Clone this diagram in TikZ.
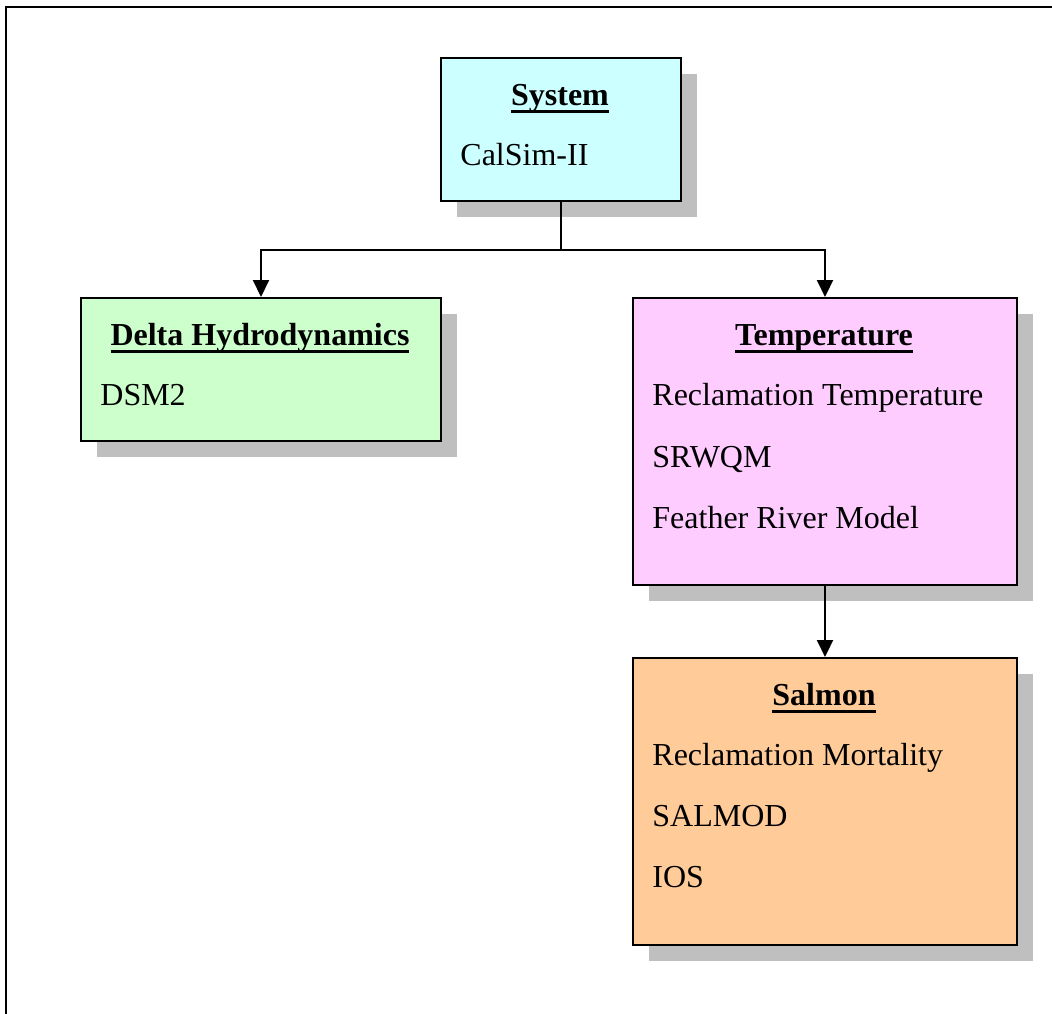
\documentclass[tikz,border=0pt]{standalone}
\usepackage{fontspec}
\setmainfont{Liberation Serif}
\usetikzlibrary{arrows.meta,shadows}
\newcommand{\boxtitle}[1]{\setbox0\hbox{\textbf{#1}}\leavevmode\rlap{\vrule width\wd0 height -2.5pt depth 4pt}\box0}
\tikzset{
  modelbox/.style={draw,line width=1pt,inner sep=0pt,anchor=north west,
    drop shadow={shadow xshift=8pt,shadow yshift=-8pt,fill=gray!50,opacity=1}},
  ttl/.style={anchor=base,inner sep=0pt},
  itm/.style={anchor=base west,inner sep=0pt},
  arr/.style={line width=1pt,-{Triangle[length=8.5pt,width=8pt]}}
}
\begin{document}
\begin{tikzpicture}[x=0.5pt,y=-0.5pt,font=\fontsize{16pt}{19pt}\selectfont]
  \useasboundingbox (0,0) rectangle (1052,1013);
  % frame
  \draw[line width=1.2pt] (6,1020) -- (6,7) -- (1060,7);
  % boxes
  \node[modelbox,fill={rgb,255:red,204;green,255;blue,255},minimum width=120pt,minimum height=71.5pt] (sys) at (440,57) {};
  \node[modelbox,fill={rgb,255:red,204;green,255;blue,204},minimum width=180pt,minimum height=71.5pt] (delta) at (80,297) {};
  \node[modelbox,fill={rgb,255:red,255;green,204;blue,255},minimum width=192pt,minimum height=143.5pt] (temp) at (632,297) {};
  \node[modelbox,fill={rgb,255:red,255;green,204;blue,153},minimum width=192pt,minimum height=143.5pt] (salmon) at (632,657) {};
  % texts
  \node[ttl] (systitle) at (560,105) {\boxtitle{System}};
  \node[itm] (calsim) at (460,165) {CalSim-II};
  \node[ttl] (deltatitle) at (260,345) {\boxtitle{Delta Hydrodynamics}};
  \node[itm] (dsm) at (100,405) {DSM2};
  \node[ttl] (temptitle) at (824,345) {\boxtitle{Temperature}};
  \node[itm] (rectemp) at (652,405) {Reclamation Temperature};
  \node[itm] (srwqm) at (652,467) {SRWQM};
  \node[itm] (feather) at (652,528) {Feather River Model};
  \node[ttl] (salmtitle) at (824,705) {\boxtitle{Salmon}};
  \node[itm] (recmort) at (652,765) {Reclamation Mortality};
  \node[itm] (salmod) at (652,826) {SALMOD};
  \node[itm] (ios) at (652,887) {IOS};
  % connectors
  \path (sys.south) ++(0,48) coordinate (fork);
  \draw[line width=1pt] (sys.south) -- (fork);
  \draw[arr] (fork) -| (delta.north);
  \draw[arr] (fork) -| (temp.north);
  \draw[arr] (temp.south) -- (salmon.north);
\end{tikzpicture}
\end{document}
